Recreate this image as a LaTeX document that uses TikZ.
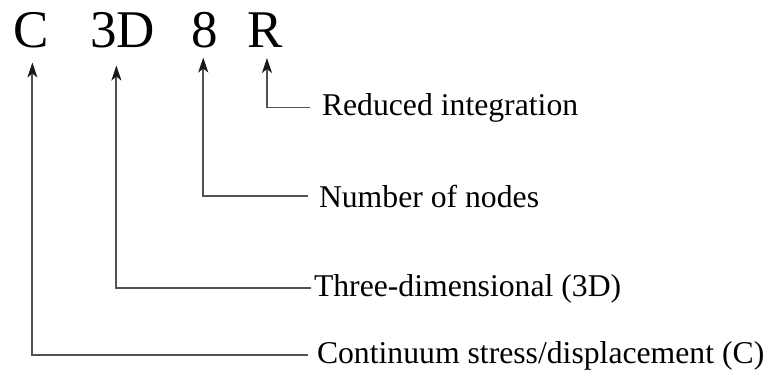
\documentclass[tikz,border=0pt]{standalone}
\usepackage{fontspec}
\setmainfont{Liberation Serif}
\usetikzlibrary{arrows.meta}
\begin{document}
\begin{tikzpicture}[x=1pt,y=1pt,
  code/.style={anchor=base west,inner sep=0pt,outer sep=0pt,font=\fontsize{53}{60}\selectfont},
  desc/.style={anchor=base west,inner sep=0pt,outer sep=0pt,font=\fontsize{31.7}{38}\selectfont},
  lead/.style={draw=black!68,line width=1.8pt,line join=miter,
    -{Stealth[length=15pt,width=10pt,inset=4pt,color=black!90]}}]
\useasboundingbox (0,0) rectangle (771,-372);
% element code letters
\node[code] (C)  at (13,-47)  {C};
\node[code] (D3) at (90,-47)  {3D};
\node[code] (N8) at (191,-47) {8};
\node[code] (R)  at (247,-47) {R};
% explanations
\node[desc] (lR) at (322,-115) {Reduced integration};
\node[desc] (lN) at (319,-207) {Number of nodes};
\node[desc] (lD) at (314,-296) {Three-dimensional (3D)};
\node[desc] (lC) at (317,-363) {Continuum stress/displacement (C)};
% leaders from each explanation up to its letter
\draw[lead] ([xshift=-12pt]lR.west) -| ([xshift=2.3pt,yshift=-11pt]R.south);
\draw[lead] ([xshift=-11pt]lN.west) -| ([xshift=-1pt,yshift=-10pt]N8.south);
\draw[lead] ([xshift=-3pt]lD.west)  -| ([xshift=-6pt,yshift=-18pt]D3.south);
\draw[lead] ([xshift=-9pt]lC.west)  -| ([xshift=1.7pt,yshift=-15pt]C.south);
\end{tikzpicture}
\end{document}
